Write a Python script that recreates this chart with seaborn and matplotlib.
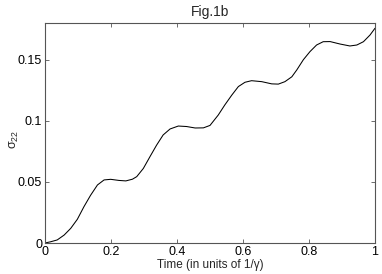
import numpy as np
import pandas as pd
import seaborn as sns
import matplotlib
matplotlib.use('Agg')
import matplotlib.pyplot as plt
from matplotlib.ticker import FormatStrFormatter

# valores (tempo em unidades de 1/gamma)
time = [0, 0.017, 0.037, 0.058, 0.078, 0.098, 0.118, 0.138, 0.159, 0.179,
        0.199, 0.224, 0.245, 0.265, 0.278, 0.298, 0.318, 0.338, 0.358, 0.379,
        0.404, 0.429, 0.455, 0.48, 0.5, 0.525, 0.545, 0.566, 0.586, 0.606,
        0.626, 0.657, 0.687, 0.707, 0.727, 0.748, 0.763, 0.783, 0.803, 0.823,
        0.843, 0.864, 0.894, 0.924, 0.945, 0.965, 0.985, 1.0]
sigma22 = [0, 0.001, 0.0025, 0.0065, 0.012, 0.0194, 0.0297, 0.039, 0.0475, 0.0516,
           0.0521, 0.0512, 0.0508, 0.0522, 0.0543, 0.061, 0.0706, 0.080, 0.0884, 0.0933,
           0.0957, 0.0953, 0.0941, 0.0942, 0.0962, 0.1047, 0.113, 0.121, 0.128, 0.1315,
           0.1328, 0.132, 0.1302, 0.130, 0.132, 0.136, 0.1416, 0.150, 0.1566, 0.162,
           0.1647, 0.1648, 0.1628, 0.1612, 0.162, 0.1647, 0.1702, 0.1757]
x_ticks = [0, 0.2, 0.4, 0.6, 0.8, 1]
y_ticks = [0, 0.05, 0.1, 0.15]

df = pd.DataFrame({'t': time, 's': sigma22})

sns.set_style('ticks')
plt.rcParams['font.family'] = ['Liberation Sans', 'DejaVu Sans']
plt.rcParams['mathtext.fontset'] = 'custom'
plt.rcParams['mathtext.rm'] = 'Liberation Sans'
plt.rcParams['mathtext.it'] = 'Liberation Sans'

fig = plt.figure(figsize=(3.82, 2.74), dpi=100)
ax = fig.add_axes([45/382, 31/274, 330/382, 220/274])

sns.lineplot(data=df, x='t', y='s', ax=ax, color='black', linewidth=0.75)

ax.set_xlim(0, 1)
ax.set_ylim(0, 0.18)
ax.set_xticks(x_ticks)
ax.set_yticks(y_ticks)
ax.xaxis.set_major_formatter(FormatStrFormatter('%g'))
ax.yaxis.set_major_formatter(FormatStrFormatter('%g'))
ax.tick_params(direction='in', length=3, width=0.6, labelsize=9, pad=2,
               top=True, right=True, colors='#555555', labelcolor='black')
for sp in ax.spines.values():
    sp.set_visible(True)
    sp.set_color('#555555')
    sp.set_linewidth(0.8)

ax.set_title('Fig.1b', fontsize=10, pad=5)
ax.set_xlabel('Time (in units of 1/γ)', fontsize=8.5, labelpad=1)
ax.set_ylabel(r'$\sigma_{22}$', fontsize=9)
ax.yaxis.set_label_coords(-0.072, 0.47)

fig.savefig('out.png', dpi=100)
